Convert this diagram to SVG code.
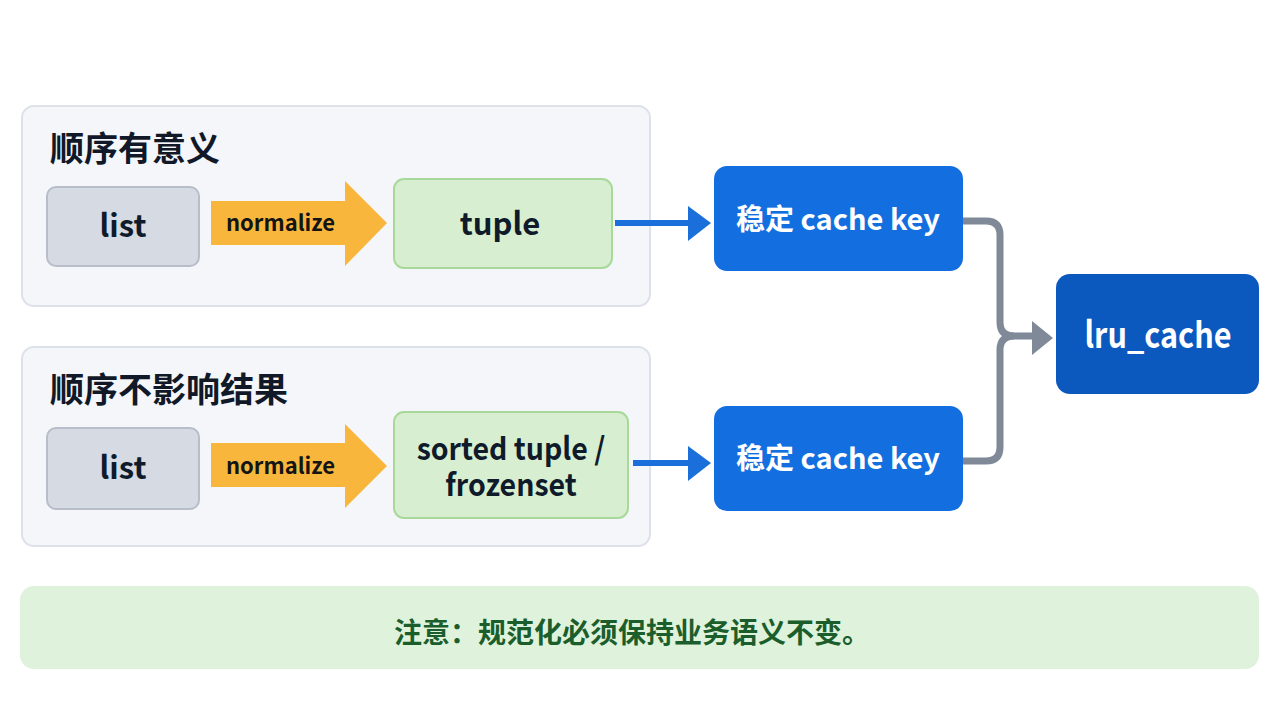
<svg xmlns="http://www.w3.org/2000/svg" width="1280" height="720" viewBox="0 0 1280 720">
<defs>
<style>
text{font-family:"Noto Sans CJK SC","Noto Sans",sans-serif;}
.panel{fill:#f4f6fa;stroke:#dde2ea;stroke-width:2;}
.title{font-size:34px;font-weight:700;fill:#111827;}
.list{fill:#d5dae3;stroke:#b7bec9;stroke-width:2;}
.green{fill:#d7efd0;stroke:#a8d99b;stroke-width:2;}
.dark{font-size:31px;font-weight:700;fill:#0f1a2a;text-anchor:middle;}
.norm{fill:#f8b73c;}
.normt{font-size:22px;font-weight:700;fill:#141414;}
.key{fill:#136fdf;}
.keyt{font-size:29px;font-weight:700;fill:#ffffff;text-anchor:middle;}
.blue{stroke:#1b6fdb;stroke-width:6;fill:none;}
.bluehead{fill:#1b6fdb;}
.gray{stroke:#7f8998;stroke-width:7;fill:none;}
</style>
</defs>
<rect width="1280" height="720" fill="#ffffff"/>

<g id="panel-ordered">
<rect class="panel" x="22" y="106" width="628" height="200" rx="12"/>
<text class="title" x="50" y="161">顺序有意义</text>
</g>
<g id="panel-unordered">
<rect class="panel" x="22" y="347" width="628" height="199" rx="12"/>
<text class="title" x="50" y="402">顺序不影响结果</text>
</g>

<g id="list1">
<rect class="list" x="47" y="187" width="152" height="79" rx="9"/>
<text class="dark" x="123" y="237">list</text>
</g>
<g id="normalize1">
<polygon class="norm" points="211,201 345,201 345,181 387,223 345,266 345,245 211,245"/>
<text class="normt" x="226" y="231">normalize</text>
</g>
<g id="tuple">
<rect class="green" x="394" y="179" width="218" height="89" rx="10"/>
<text class="dark" x="500" y="235">tuple</text>
</g>

<g id="list2">
<rect class="list" x="47" y="428" width="152" height="81" rx="9"/>
<text class="dark" x="123" y="479">list</text>
</g>
<g id="normalize2">
<polygon class="norm" points="211,443 345,443 345,424 387,466 345,508 345,487 211,487"/>
<text class="normt" x="226" y="474">normalize</text>
</g>
<g id="sorted">
<rect class="green" x="394" y="412" width="234" height="106" rx="10"/>
<text class="dark" font-size="30" transform="translate(511,460) scale(0.92,1)"><tspan x="0" y="0">sorted tuple /</tspan><tspan x="0" y="36">frozenset</tspan></text>
</g>

<g id="key1">
<rect class="key" x="714" y="166" width="249" height="105" rx="13"/>
<text class="keyt" x="838" y="230">稳定 cache key</text>
</g>
<g id="key2">
<rect class="key" x="714" y="406" width="249" height="105" rx="13"/>
<text class="keyt" x="838" y="469">稳定 cache key</text>
</g>

<g id="lru">
<rect x="1056" y="274" width="203" height="120" rx="14" fill="#0b58bf"/>
<text font-size="36" font-weight="700" fill="#ffffff" text-anchor="middle" transform="translate(1158,348) scale(0.85,1)" x="0" y="0">lru_cache</text>
</g>

<g id="connectors">
<line class="blue" x1="615" y1="223" x2="690" y2="223"/>
<polygon class="bluehead" points="688,206 711,223 688,241"/>
<line class="blue" x1="633" y1="463" x2="690" y2="463"/>
<polygon class="bluehead" points="688,446 711,463 688,481"/>
<path class="gray" d="M963,221 H986 Q1000,221 1000,235 V322 Q1000,336 1014,336 H1034"/>
<path class="gray" d="M963,461 H986 Q1000,461 1000,447 V350 Q1000,336 1014,336"/>
<polygon fill="#7f8998" points="1032,321 1053,338 1032,355"/>
</g>

<g id="note">
<rect x="20" y="586" width="1239" height="83" rx="14" fill="#dff3dc"/>
<text x="632" y="643" font-size="28" font-weight="700" fill="#1b5e2c" text-anchor="middle">注意：规范化必须保持业务语义不变。</text>
</g>
</svg>
